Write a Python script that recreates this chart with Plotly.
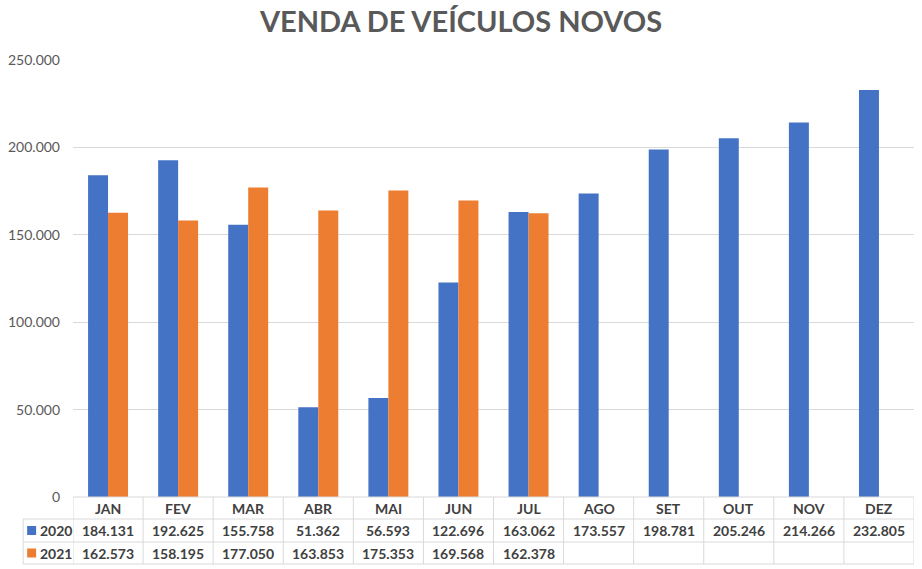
import plotly.graph_objects as go

months = ["JAN", "FEV", "MAR", "ABR", "MAI", "JUN", "JUL", "AGO", "SET", "OUT", "NOV", "DEZ"]
sales_2020 = [184131, 192625, 155758, 51362, 56593, 122696, 163062, 173557, 198781, 205246, 214266, 232805]
sales_2021 = [162573, 158195, 177050, 163853, 175353, 169568, 162378, None, None, None, None, None]
series_names = ["2020", "2021"]
colors = ["#4472C4", "#ED7D31"]

W, H = 922, 569
ML, MR, MT, MB = 70, 8, 60, 72
plot_w = W - ML - MR
plot_h = H - MT - MB


def py(pix):
    return (H - MB - pix) / plot_h


def px(pix):
    return (pix - ML) / plot_w


def fmt(v):
    return "" if v is None else f"{v:,}".replace(",", ".")


fig = go.Figure()
for name, vals, c in zip(series_names, [sales_2020, sales_2021], colors):
    fig.add_trace(go.Bar(x=months, y=vals, name=name, marker_color=c, marker_line_width=0))

grid = "#D9D9D9"
txt = "#404040"
font_fam = "Lato, 'Open Sans', sans-serif"
shapes = []
annotations = []

row_tops = [497, 519, 542, 564]
# horizontal table lines
shapes.append(dict(type="line", xref="paper", yref="paper", x0=0, x1=1, y0=py(497), y1=py(497), line=dict(color=grid, width=1)))
for r in row_tops[1:]:
    shapes.append(dict(type="line", xref="paper", yref="paper", x0=px(20), x1=1, y0=py(r), y1=py(r), line=dict(color=grid, width=1)))
# vertical lines
for i in range(len(months) + 1):
    xv = i - 0.5
    shapes.append(dict(type="line", xref="x", yref="paper", x0=xv, x1=xv, y0=py(497), y1=py(564), line=dict(color=grid, width=1)))
shapes.append(dict(type="line", xref="paper", yref="paper", x0=px(20), x1=px(20), y0=py(519), y1=py(564), line=dict(color=grid, width=1)))

row_centers = [508, 530.5, 553]
for m in months:
    annotations.append(dict(x=m, y=py(row_centers[0]), xref="x", yref="paper", xanchor="center", yanchor="middle",
                            text=f"<b>{m}</b>", showarrow=False,
                            font=dict(size=14, color=txt, family=font_fam)))
for ri, (name, vals, c) in enumerate(zip(series_names, [sales_2020, sales_2021], colors)):
    yc = py(row_centers[ri + 1])
    for m, v in zip(months, vals):
        annotations.append(dict(x=m, y=yc, xref="x", yref="paper", xanchor="center", yanchor="middle",
                                text=f"<b>{fmt(v)}</b>", showarrow=False,
                                font=dict(size=14, color=txt, family=font_fam)))
    shapes.append(dict(type="rect", xref="paper", yref="paper", x0=px(24), x1=px(33),
                       y0=py(row_centers[ri + 1] + 4.5), y1=py(row_centers[ri + 1] - 4.5),
                       fillcolor=c, line=dict(width=0)))
    annotations.append(dict(x=px(35), y=yc, xref="paper", yref="paper", xanchor="left", yanchor="middle",
                            text=f"<b>{name}</b>",
                            showarrow=False, font=dict(size=14, color=txt, family=font_fam)))

fig.update_layout(
    width=W, height=H,
    margin=dict(l=ML, r=MR, t=MT, b=MB, pad=0),
    paper_bgcolor="white", plot_bgcolor="white",
    separators=",.",
    title=dict(text="<b>VENDA DE VEÍCULOS NOVOS</b>", x=0.5, xref="container", xanchor="center",
               y=1 - 22 / H, yanchor="middle", yref="container",
               font=dict(size=29, color="#595959", family=font_fam)),
    barmode="group", bargap=0.43, bargroupgap=0,
    showlegend=False,
    xaxis=dict(range=[-0.5, 11.5], showticklabels=False, showgrid=False, zeroline=False, showline=False, ticks=""),
    yaxis=dict(range=[0, 250000], tickvals=[0, 50000, 100000, 150000, 200000, 250000], tickformat=",d",
               showgrid=True, gridcolor=grid, gridwidth=1, zeroline=False, showline=False,
               tickfont=dict(size=14, color="#595959", family=font_fam), ticklabelstandoff=12),
    shapes=shapes, annotations=annotations,
)

fig.write_html("out.html", config={"displayModeBar": False},
               post_script="document.body.style.margin='0';document.body.style.overflow='hidden';")
